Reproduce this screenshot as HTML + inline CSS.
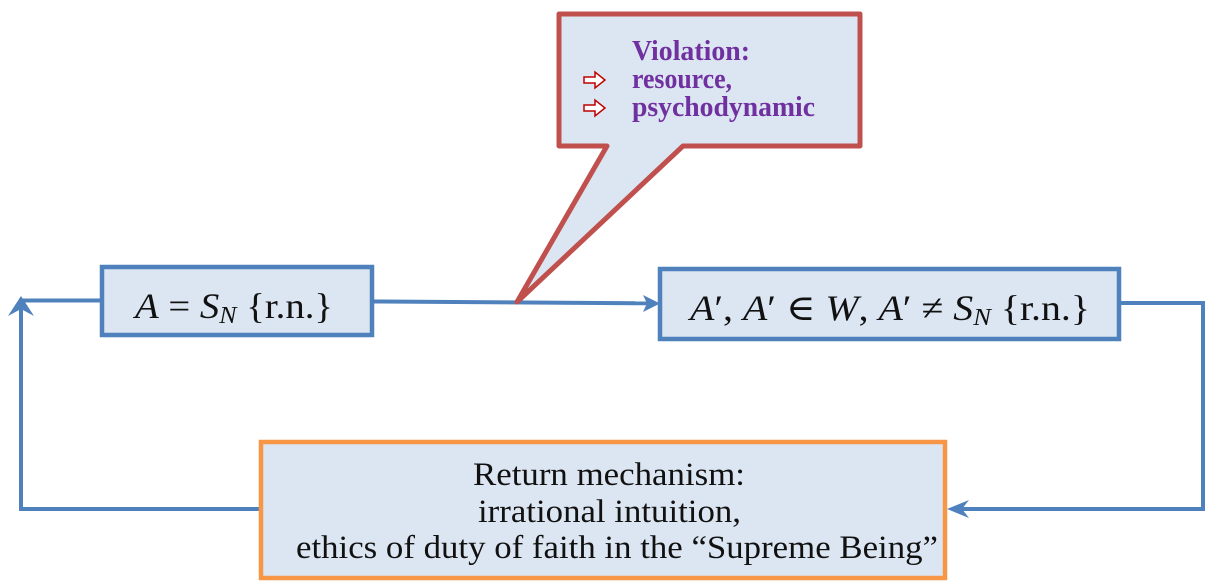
<!DOCTYPE html>
<html><head><meta charset="utf-8"><style>
html,body{margin:0;padding:0;background:#fff;}
svg{display:block;}
</style></head><body>
<svg width="1211" height="583" viewBox="0 0 1211 583" xmlns="http://www.w3.org/2000/svg">
  <!-- connectors -->
  <g stroke="#4F81BD" stroke-width="4" fill="none" stroke-linejoin="miter">
    <polyline points="100,300.5 21,300.5 21,509 259,509"/>
    <line x1="374" y1="301.5" x2="650" y2="303.3"/>
    <polyline points="1121,303 1203,303 1203,509 956,509"/>
  </g>
  <g fill="#4F81BD">
    <polygon points="21,296 34,316 21,309 8,316"/>
    <polygon points="660,303.5 643,312 647,303.4 643,295"/>
    <polygon points="947,509 969,500 962,509 969,518"/>
  </g>

  <!-- boxes -->
  <rect x="102" y="267" width="270" height="68" fill="#DCE6F2" stroke="#4F81BD" stroke-width="4.5"/>
  <rect x="660" y="269" width="459" height="70" fill="#DCE6F2" stroke="#4F81BD" stroke-width="4.5"/>
  <rect x="261" y="442" width="684" height="136" fill="#DCE6F2" stroke="#F79646" stroke-width="4.5"/>

  <!-- callout -->
  <polygon points="559,14 860,14 860,146 683,146 517,302 607,146 559,146" fill="#DCE6F2" stroke="#C0504D" stroke-width="5" stroke-linejoin="round"/>

  <!-- callout text -->
  <g font-family="Liberation Serif, serif" font-weight="bold" font-size="29" fill="#7030A0">
    <text x="632" y="60" textLength="118" lengthAdjust="spacingAndGlyphs">Violation:</text>
    <text x="632" y="88" textLength="100" lengthAdjust="spacingAndGlyphs">resource,</text>
    <text x="632" y="116" textLength="183" lengthAdjust="spacingAndGlyphs">psychodynamic</text>
  </g>
  <g fill="#fff" stroke="#C00000" stroke-width="1.5" stroke-linejoin="miter">
    <polygon points="584,77 595,77 595,72 605,80 595,88 595,83 584,83"/>
    <polygon points="584,105 595,105 595,100 605,108 595,116 595,111 584,111"/>
  </g>

  <!-- left formula -->
  <text x="135" y="318" font-family="Liberation Serif, 'DejaVu Serif', serif" font-size="36" fill="#111" textLength="198" lengthAdjust="spacingAndGlyphs"><tspan font-style="italic">A</tspan> = <tspan font-style="italic">S</tspan><tspan font-style="italic" font-size="24" dy="5">N</tspan><tspan dy="-5"> {r.n.}</tspan></text>

  <!-- right formula -->
  <text x="690" y="320" font-family="Liberation Serif, 'DejaVu Serif', serif" font-size="36" fill="#111" textLength="400" lengthAdjust="spacingAndGlyphs"><tspan font-style="italic">A</tspan>′, <tspan font-style="italic">A</tspan>′ ∈ <tspan font-style="italic">W</tspan>, <tspan font-style="italic">A</tspan>′ ≠ <tspan font-style="italic">S</tspan><tspan font-style="italic" font-size="24" dy="5">N</tspan><tspan dy="-5"> {r.n.}</tspan></text>

  <!-- bottom text -->
  <g font-family="Liberation Serif, serif" font-size="33" fill="#111">
    <text x="473" y="485" textLength="272" lengthAdjust="spacingAndGlyphs">Return mechanism:</text>
    <text x="478" y="522" textLength="263" lengthAdjust="spacingAndGlyphs">irrational intuition,</text>
    <text x="296" y="558" textLength="642" lengthAdjust="spacingAndGlyphs">ethics of duty of faith in the “Supreme Being”</text>
  </g>
</svg>
</body></html>
